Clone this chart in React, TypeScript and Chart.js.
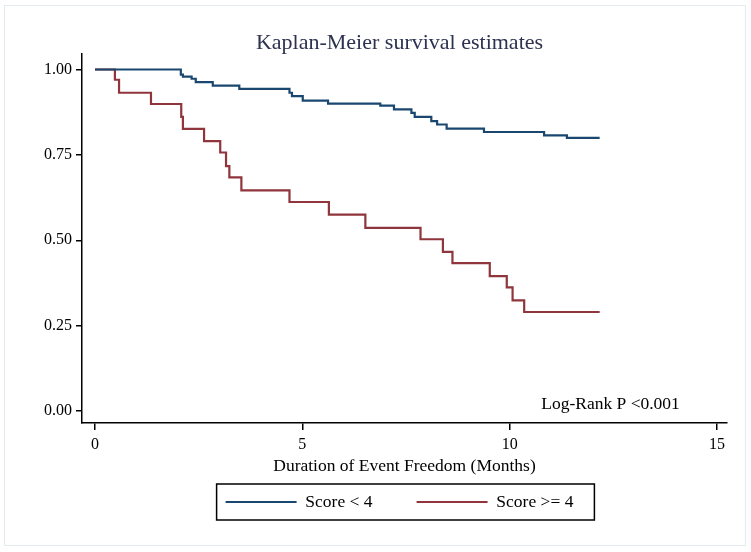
import React, { useEffect, useRef } from 'react';
import { Chart, registerables } from 'chart.js';

Chart.register(...registerables);

// ---- data ----
const lowLabel = 'Score < 4';
const lowTimes = [0, 2.07, 2.12, 2.33, 2.43, 2.84, 3.48, 4.69, 4.75, 5.01, 5.62, 6.88, 7.21, 7.63, 7.71, 8.11, 8.25, 8.48, 9.38, 10.83, 11.38, 12.17];
const lowSurv = [1, 0.985, 0.979, 0.973, 0.963, 0.953, 0.943, 0.932, 0.922, 0.909, 0.9, 0.894, 0.883, 0.873, 0.861, 0.849, 0.839, 0.827, 0.817, 0.807, 0.8, 0.8];

const highLabel = 'Score >= 4';
const highTimes = [0, 0.48, 0.58, 1.35, 2.08, 2.12, 2.63, 3.02, 3.16, 3.24, 3.53, 4.69, 5.64, 6.52, 7.85, 8.39, 8.62, 9.52, 9.93, 10.07, 10.35, 12.17];
const highSurv = [1, 0.97, 0.932, 0.899, 0.861, 0.826, 0.79, 0.757, 0.717, 0.684, 0.646, 0.612, 0.575, 0.536, 0.503, 0.466, 0.433, 0.395, 0.362, 0.324, 0.29, 0.29];

const xTickValues = [0, 5, 10, 15];
const yTickValues = [0, 0.25, 0.5, 0.75, 1];

const titleText = 'Kaplan-Meier survival estimates';
const xTitleText = 'Duration of Event Freedom (Months)';
const annotationText = 'Log-Rank P <0.001';
const annotationAt = { x: 10.76, y: 0.02 };

const FONT = '"Liberation Serif", "Times New Roman", serif';

const frameAndLegendBox = {
  id: 'frameAndLegendBox',
  beforeDraw(chart: any) {
    const ctx = chart.ctx;
    ctx.save();
    ctx.fillStyle = '#ffffff';
    ctx.fillRect(0, 0, chart.width, chart.height);
    ctx.strokeStyle = '#e3ebee';
    ctx.lineWidth = 1;
    ctx.strokeRect(4.5, 5.5, 741, 540);
    ctx.restore();
  },
  afterDraw(chart: any) {
    const ctx = chart.ctx;
    const lg = chart.legend;
    if (lg && lg.legendHitBoxes && lg.legendHitBoxes.length) {
      const hb = lg.legendHitBoxes;
      const first = hb[0];
      const last = hb[hb.length - 1];
      const fs = lg.options.labels.font.size;
      const cy = first.top + fs / 2;
      const left = first.left - 9;
      const right = last.left + last.width + 21;
      ctx.save();
      ctx.strokeStyle = '#000000';
      ctx.lineWidth = 1.5;
      ctx.strokeRect(left, cy - 18, right - left, 36);
      ctx.restore();
    }
    // annotation text
    const xs = chart.scales.x;
    const ys = chart.scales.y;
    ctx.save();
    ctx.font = `17.5px ${FONT}`;
    ctx.fillStyle = '#000000';
    ctx.textAlign = 'left';
    ctx.textBaseline = 'middle';
    ctx.fillText(annotationText, xs.getPixelForValue(annotationAt.x), ys.getPixelForValue(annotationAt.y));
    ctx.restore();
  },
};

export default function App() {
  const ref = useRef<HTMLCanvasElement | null>(null);

  useEffect(() => {
    if (!ref.current) return;
    Chart.defaults.font.family = FONT;
    Chart.defaults.color = '#000000';
    const chart = new Chart(ref.current, {
      type: 'line',
      data: {
        datasets: [
          {
            label: lowLabel,
            data: lowTimes.map((t, i) => ({ x: t, y: lowSurv[i] })),
            borderColor: '#1a476f',
            backgroundColor: '#1a476f',
            borderWidth: 2.2,
            pointRadius: 0,
            stepped: 'before',
            fill: false,
          },
          {
            label: highLabel,
            data: highTimes.map((t, i) => ({ x: t, y: highSurv[i] })),
            borderColor: '#90353b',
            backgroundColor: '#90353b',
            borderWidth: 2.2,
            pointRadius: 0,
            stepped: 'before',
            fill: false,
          },
        ],
      },
      options: {
        animation: false,
        responsive: false,
        layout: { padding: { left: 72, right: 24, top: 0, bottom: 31.25 } },
        scales: {
          x: {
            type: 'linear',
            min: -0.3135,
            max: 15.241,
            afterBuildTicks: (s: any) => {
              s.ticks = xTickValues.map((v) => ({ value: v }));
            },
            afterFit: (s: any) => {
              s.height = 26.25;
            },
            ticks: {
              font: { size: 16 },
              color: '#000000',
              padding: 5,
              maxRotation: 0,
              callback: (v: any) => String(v),
            },
            grid: {
              display: true,
              drawOnChartArea: false,
              drawTicks: true,
              tickLength: 7,
              color: '#000000',
              lineWidth: 1.5,
            },
            border: { display: true, color: '#000000', width: 1.5 },
            title: {
              display: true,
              text: xTitleText,
              font: { size: 17.5, lineHeight: 1.2 },
              color: '#000000',
              padding: { top: 0, bottom: -27.25 },
            },
          },
          y: {
            type: 'linear',
            min: -0.0351,
            max: 1.0454,
            afterBuildTicks: (s: any) => {
              s.ticks = yTickValues.map((v) => ({ value: v }));
            },
            afterFit: (s: any) => {
              s.width = 10;
            },
            ticks: {
              font: { size: 16 },
              color: '#000000',
              mirror: true,
              padding: -38,
              callback: (v: any) => Number(v).toFixed(2),
            },
            grid: {
              display: true,
              drawOnChartArea: false,
              drawTicks: true,
              tickLength: 6,
              color: '#000000',
              lineWidth: 1.5,
            },
            border: { display: true, color: '#000000', width: 1.5 },
          },
        },
        plugins: {
          title: {
            display: true,
            text: titleText,
            color: '#2d3250',
            font: { size: 22, weight: 'normal', lineHeight: 1 },
            padding: { top: 32, bottom: 0 },
          },
          legend: {
            display: true,
            position: 'bottom',
            labels: {
              usePointStyle: true,
              pointStyle: 'line',
              pointStyleWidth: 71,
              padding: 44,
              color: '#000000',
              font: { size: 17.5 },
            },
          },
          tooltip: { enabled: false },
        },
      },
      plugins: [frameAndLegendBox],
    } as any);
    return () => chart.destroy();
  }, []);

  return (
    <div style={{ position: 'fixed', left: 0, top: 0, width: 751, height: 552, background: '#ffffff' }}>
      <canvas ref={ref} width={751} height={552} style={{ display: 'block' }} />
    </div>
  );
}
